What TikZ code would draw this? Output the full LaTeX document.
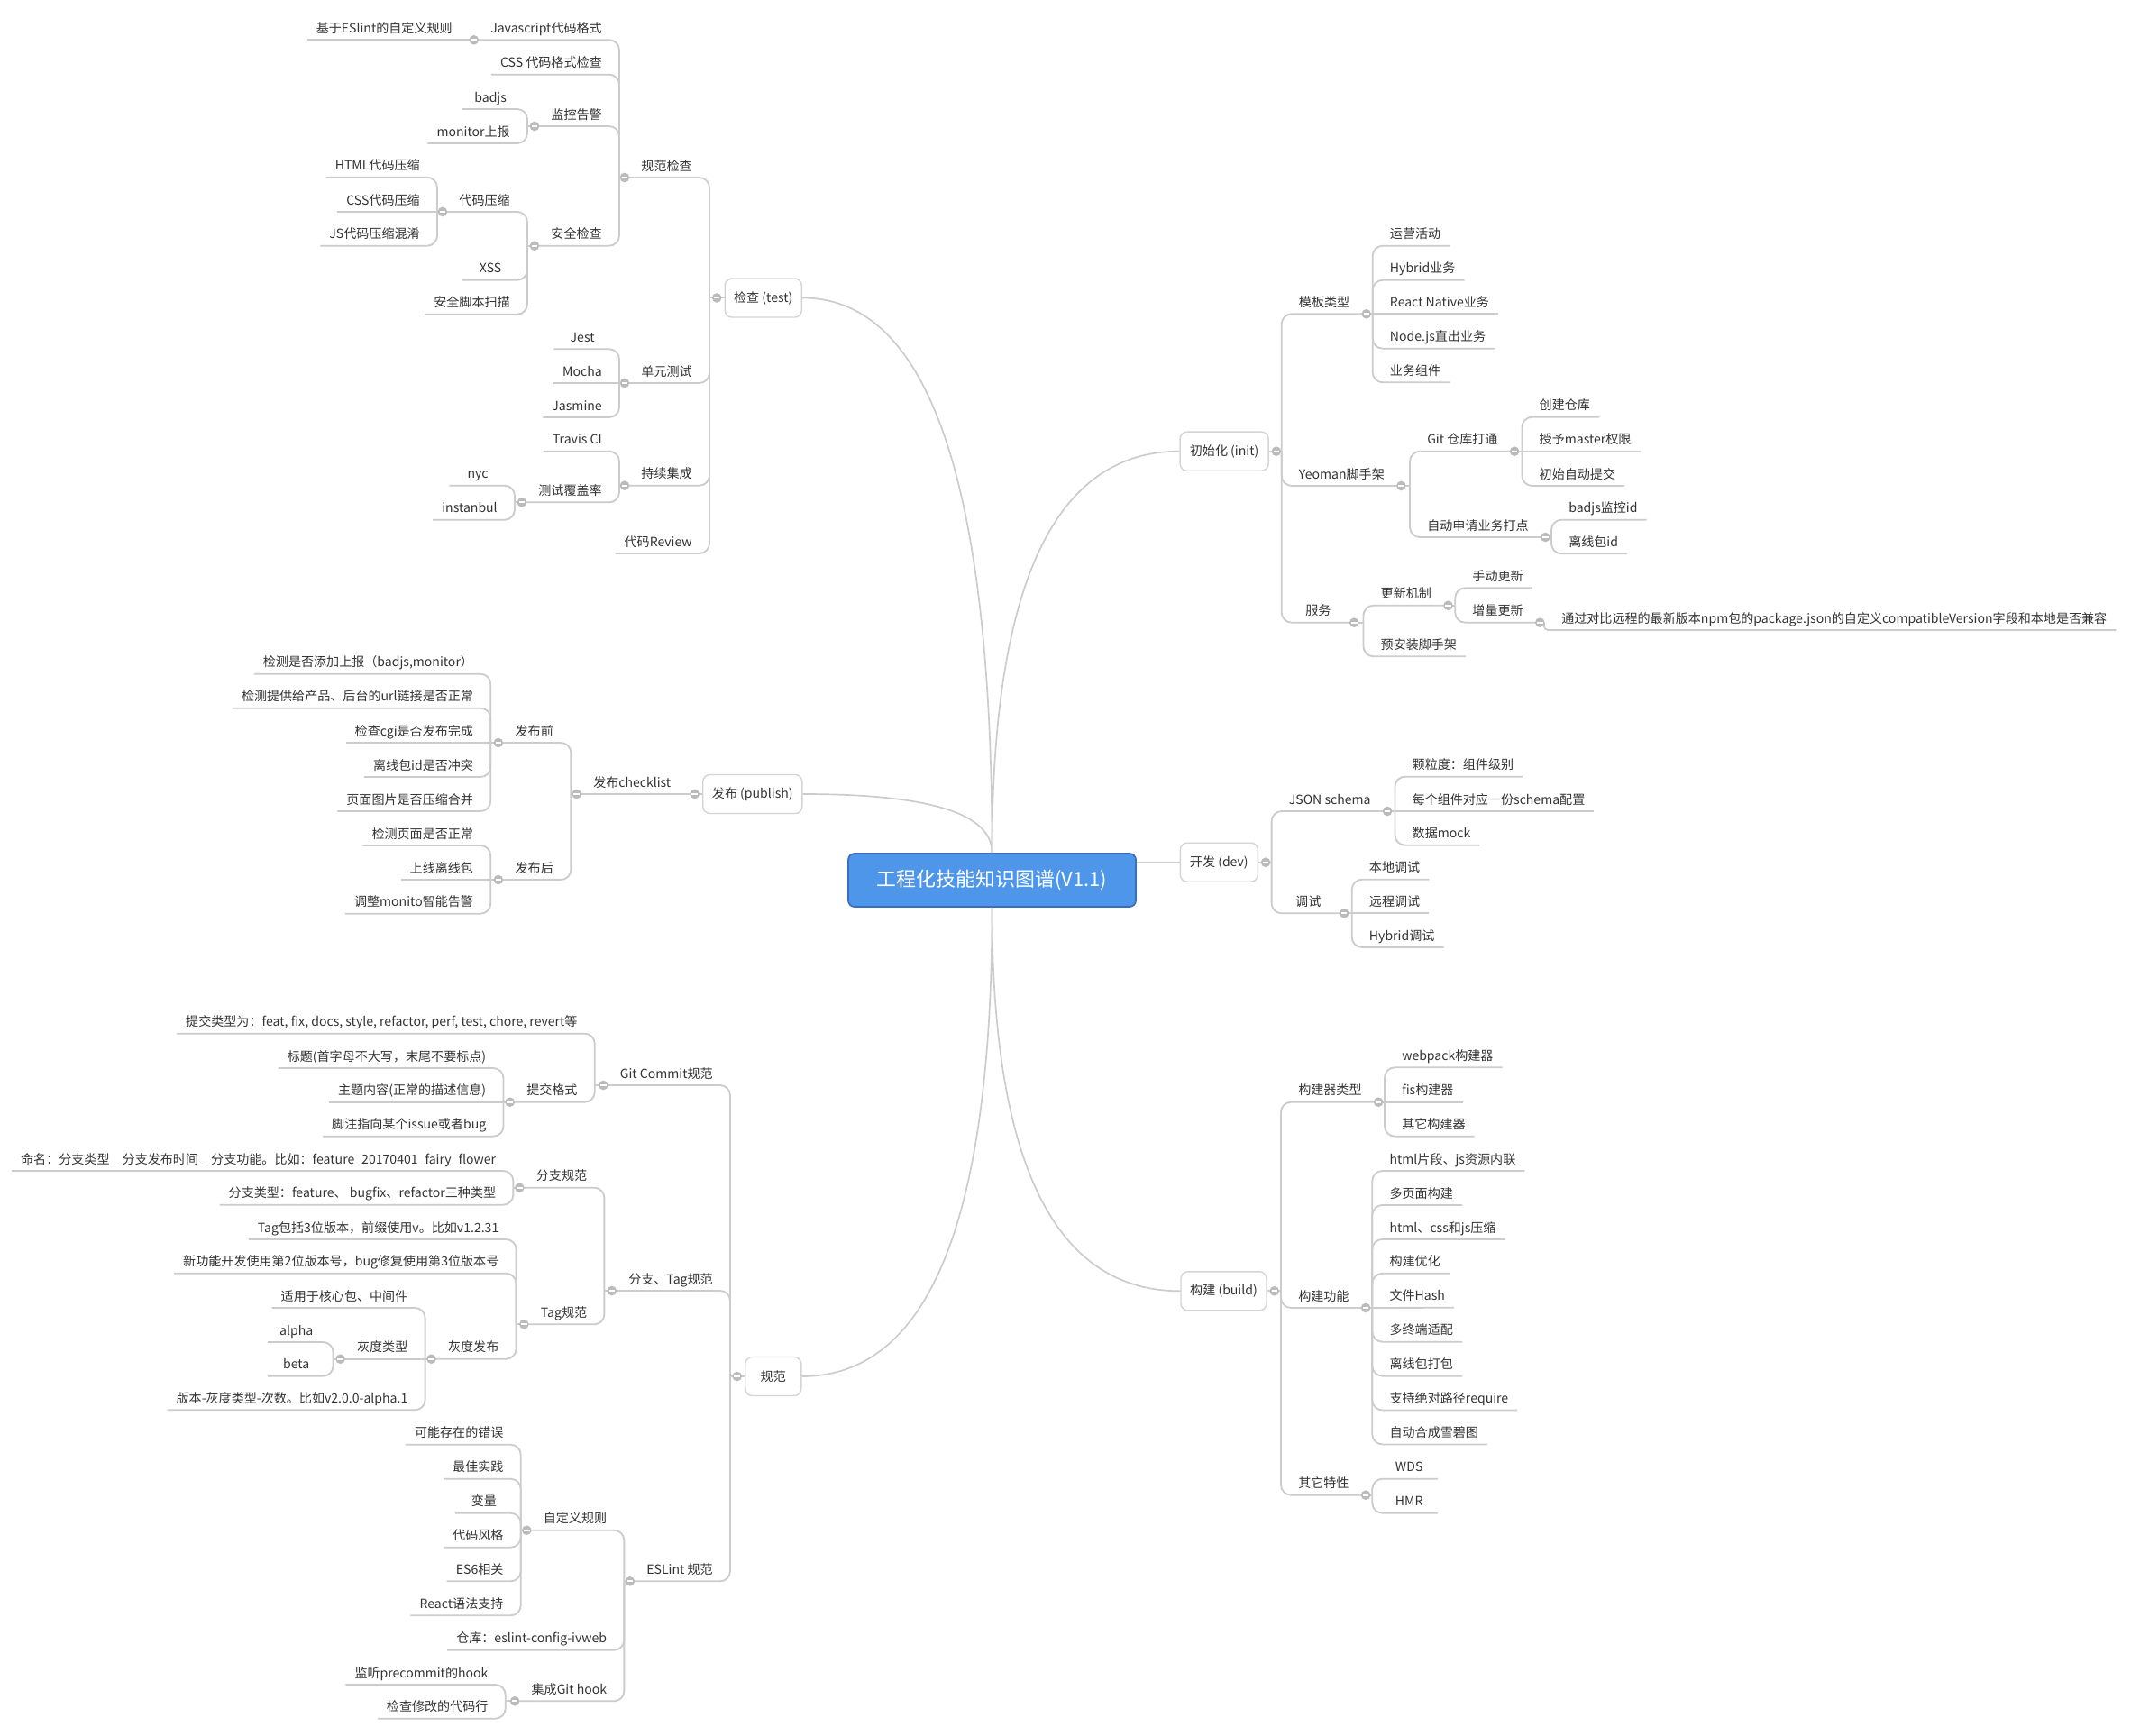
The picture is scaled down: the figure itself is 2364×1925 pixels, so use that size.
\documentclass[tikz,border=0pt]{standalone}
\usepackage{fontspec}
\setmainfont{Noto Sans CJK SC}
\usetikzlibrary{calc}
\definecolor{linegray}{HTML}{CCCCCC}
\definecolor{foldgray}{HTML}{BBBBBB}
\definecolor{boxgray}{HTML}{D4D4D4}
\definecolor{textgray}{HTML}{333333}
\definecolor{rootblue}{HTML}{4D96EA}
\definecolor{rootline}{HTML}{3A6DBE}
\tikzset{
  topictext/.style={inner xsep=0pt, inner ysep=5.4pt, text depth=0pt, text=textgray, font=\fontsize{10}{12}\selectfont},
  lleaf/.style={topictext, anchor=south east, minimum width=1.8cm, execute at begin node={\hspace{7pt}}, execute at end node={\hspace{13.5pt}}},
  ltopic/.style={topictext, anchor=south east, minimum width=2cm, execute at begin node={\hspace{13pt}}, execute at end node={\hspace{13.5pt}}},
  rleaf/.style={topictext, anchor=south west, minimum width=1.8cm, execute at begin node={\hspace{13.5pt}}, execute at end node={\hspace{7pt}}},
  rtopic/.style={topictext, anchor=south west, minimum width=2cm, execute at begin node={\hspace{13.5pt}}, execute at end node={\hspace{13pt}}},
  mainbox/.style={draw=boxgray, line width=1pt, rounded corners=5.5pt, fill=white, minimum height=1.075cm, inner xsep=6.5pt, text=textgray, font=\fontsize{10}{12}\selectfont},
  mlink/.style={draw=linegray, line width=1.3pt, rounded corners=8pt},
  mcurve/.style={draw=linegray, line width=1.2pt},
  fold/.style={circle, fill=foldgray, minimum size=0.265cm, inner sep=0pt, path picture={\draw[white, line width=1.2pt] ([xshift=-2.3pt]path picture bounding box.center) -- ([xshift=2.3pt]path picture bounding box.center);}},
}
\begin{document}
\begin{tikzpicture}[x=0.025cm, y=-0.025cm]
\path[use as bounding box, fill=white] (0,0) rectangle (2364,1925);

\node[rectangle, rounded corners=5pt, fill=rootblue, draw=rootline, line width=1.2pt, minimum width=7.975cm, minimum height=1.475cm, text=white, font=\fontsize{15.6}{18}\selectfont] (root) at (1100.5,976.5) {工程化技能知识图谱(V1.1)};

\node[mainbox, anchor=east, minimum width=2.125cm] (test) at (890,330.5) {检查 (test)};
\node[mainbox, anchor=east, minimum width=2.75cm] (pub) at (890.5,881) {发布 (publish)};
\node[mainbox, anchor=east, minimum width=1.55cm] (spec) at (889.5,1527) {规范};
\node[mainbox, anchor=west, minimum width=2.45cm] (init) at (1308.4,500.7) {初始化 (init)};
\node[mainbox, anchor=west, minimum width=2.15cm] (dev) at (1308.6,956.7) {开发 (dev)};
\node[mainbox, anchor=west, minimum width=2.375cm] (build) at (1309.3,1432.3) {构建 (build)};

\draw[mcurve] (root.north) .. controls +(0,-411) and +(140.3,0) .. (test.east);
\draw[mcurve] (root.north) .. controls +(0,-44) and +(140,0) .. (pub.east);
\draw[mcurve] (root.south) .. controls +(0,347.3) and +(140.7,0) .. (spec.east);
\draw[mcurve] (root.north) .. controls +(0,-297.5) and +(-138.6,0) .. (init.west);
\draw[mcurve] (root.east |- dev.west) -- (dev.west);
\draw[mcurve] (root.south) .. controls +(0,284.2) and +(-139.2,0) .. (build.west);

\node[ltopic] (rule) at (787,197) {规范检查};
\node[ltopic] (jsfmt) at (687,44.3) {Javascript代码格式};
\node[lleaf] (eslintrule) at (521,44.3) {基于ESlint的自定义规则};
\node[lleaf] (cssfmt) at (687,82.7) {CSS 代码格式检查};
\node[ltopic] (monitor) at (687,140) {监控告警};
\node[lleaf] (badjs) at (585,121) {badjs};
\node[lleaf] (monrep) at (585,159) {monitor上报};
\node[ltopic] (secure) at (687,272.7) {安全检查};
\node[ltopic] (compress) at (585,235) {代码压缩};
\node[lleaf] (htmlc) at (485,196.7) {HTML代码压缩};
\node[lleaf] (cssc) at (485,235) {CSS代码压缩};
\node[lleaf] (jsc) at (485,272.7) {JS代码压缩混淆};
\node[lleaf] (xss) at (585,310.7) {XSS};
\node[lleaf] (scan) at (585,348.7) {安全脚本扫描};
\node[ltopic] (unit) at (787,425) {单元测试};
\node[lleaf] (jest) at (687,387.3) {Jest};
\node[lleaf] (mocha) at (687,425) {Mocha};
\node[lleaf] (jasmine) at (687,463) {Jasmine};
\node[ltopic] (ci) at (787,538.7) {持续集成};
\node[lleaf] (travis) at (687,500.7) {Travis CI};
\node[ltopic] (cover) at (687,557.3) {测试覆盖率};
\node[lleaf] (nyc) at (571,538.7) {nyc};
\node[lleaf] (istanbul) at (571,576.7) {instanbul};
\node[lleaf] (review) at (787,614) {代码Review};

\node[ltopic] (checklist) at (763.5,881) {发布checklist};
\node[ltopic] (before) at (633.4,824) {发布前};
\node[lleaf] (b1) at (544.3,747.7) {检测是否添加上报（badjs,monitor）};
\node[lleaf] (b2) at (544.3,785.7) {检测提供给产品、后台的url链接是否正常};
\node[lleaf] (b3) at (544.3,824) {检查cgi是否发布完成};
\node[lleaf] (b4) at (544.3,862) {离线包id是否冲突};
\node[lleaf] (b5) at (544.3,900) {页面图片是否压缩合并};
\node[ltopic] (after) at (633.4,976) {发布后};
\node[lleaf] (a1) at (544.3,938) {检测页面是否正常};
\node[lleaf] (a2) at (544.3,976) {上线离线包};
\node[lleaf] (a3) at (544.3,1013.7) {调整monito智能告警};

\node[ltopic] (gitc) at (810,1204) {Git Commit规范};
\node[lleaf] (ctype) at (659.8,1146.7) {提交类型为：feat, fix, docs, style, refactor, perf, test, chore, revert等};
\node[ltopic] (cfmt) at (659.8,1222.7) {提交格式};
\node[lleaf] (title) at (558.5,1185) {标题(首字母不大写，末尾不要标点)};
\node[lleaf] (subject) at (558.5,1222.7) {主题内容(正常的描述信息)};
\node[lleaf] (footer) at (558.5,1260.7) {脚注指向某个issue或者bug};
\node[ltopic] (brtag) at (810,1432) {分支、Tag规范};
\node[ltopic] (brspec) at (670.4,1317.7) {分支规范};
\node[lleaf] (naming) at (569.4,1299) {命名：分支类型 \_ 分支发布时间 \_ 分支功能。比如：feature\_20170401\_fairy\_flower};
\node[lleaf] (brtype) at (569.4,1336.7) {分支类型：feature、 bugfix、refactor三种类型};
\node[ltopic] (tagspec) at (670.4,1469.3) {Tag规范};
\node[lleaf] (tagver) at (572.6,1375) {Tag包括3位版本，前缀使用v。比如v1.2.31};
\node[lleaf] (tagnew) at (572.6,1412.7) {新功能开发使用第2位版本号，bug修复使用第3位版本号};
\node[ltopic] (gray) at (572.6,1507.7) {灰度发布};
\node[lleaf] (graycore) at (471.6,1451) {适用于核心包、中间件};
\node[ltopic] (graytype) at (471.6,1507.7) {灰度类型};
\node[lleaf] (alpha) at (369.6,1489) {alpha};
\node[lleaf] (beta) at (369.6,1526.7) {beta};
\node[lleaf] (grayver) at (471.6,1564.3) {版本-灰度类型-次数。比如v2.0.0-alpha.1};
\node[ltopic] (lint) at (810,1754.3) {ESLint 规范};
\node[ltopic] (lrules) at (692.4,1697.7) {自定义规则};
\node[lleaf] (err) at (577.7,1602.7) {可能存在的错误};
\node[lleaf] (best) at (577.7,1640.7) {最佳实践};
\node[lleaf] (vars) at (577.7,1678.7) {变量};
\node[lleaf] (cstyle) at (577.7,1716.7) {代码风格};
\node[lleaf] (es6) at (577.7,1754.3) {ES6相关};
\node[lleaf] (react) at (577.7,1792.3) {React语法支持};
\node[lleaf] (lrepo) at (692.4,1830.7) {仓库：eslint-config-ivweb};
\node[ltopic] (hook) at (692.4,1887.3) {集成Git hook};
\node[lleaf] (precommit) at (560.7,1869) {监听precommit的hook};
\node[lleaf] (changed) at (560.7,1906.7) {检查修改的代码行};

\node[rtopic] (tpl) at (1421.7,348.3) {模板类型};
\node[rleaf] (ops) at (1522.7,272.7) {运营活动};
\node[rleaf] (hybrid) at (1522.7,310.7) {Hybrid业务};
\node[rleaf] (rn) at (1522.7,348.3) {React Native业务};
\node[rleaf] (nodejs) at (1522.7,386.7) {Node.js直出业务};
\node[rleaf] (comp) at (1522.7,424.3) {业务组件};
\node[rtopic] (yeoman) at (1421.7,539) {Yeoman脚手架};
\node[rtopic] (gitrepo) at (1564,500.7) {Git 仓库打通};
\node[rleaf] (mkrepo) at (1688.4,462.7) {创建仓库};
\node[rleaf] (master) at (1688.4,500.7) {授予master权限};
\node[rleaf] (firstcommit) at (1688.4,539) {初始自动提交};
\node[rtopic] (apply) at (1564,596) {自动申请业务打点};
\node[rleaf] (badjsid) at (1721,576.7) {badjs监控id};
\node[rleaf] (offlineid) at (1721,614.3) {离线包id};
\node[rtopic] (service) at (1421.7,690.7) {服务};
\node[rtopic] (update) at (1512.4,671.7) {更新机制};
\node[rleaf] (manual) at (1614.2,652.3) {手动更新};
\node[rtopic] (incr) at (1614.2,690.7) {增量更新};
\node[rleaf] (compat) at (1713,699) {通过对比远程的最新版本npm包的package.json的自定义compatibleVersion字段和本地是否兼容};
\node[rleaf] (preinstall) at (1512.4,728.3) {预安装脚手架};

\node[rtopic] (schema) at (1410.6,900) {JSON schema};
\node[rleaf] (grain) at (1547.4,861.7) {颗粒度：组件级别};
\node[rleaf] (percomp) at (1547.4,900) {每个组件对应一份schema配置};
\node[rleaf] (mock) at (1547.4,937.7) {数据mock};
\node[rtopic] (debug) at (1410.6,1013.3) {调试};
\node[rleaf] (local) at (1499.7,975.7) {本地调试};
\node[rleaf] (remote) at (1499.7,1013.3) {远程调试};
\node[rleaf] (hybriddbg) at (1499.7,1051) {Hybrid调试};

\node[rtopic] (btype) at (1421,1222.7) {构建器类型};
\node[rleaf] (webpack) at (1536,1184.3) {webpack构建器};
\node[rleaf] (fis) at (1536,1222.7) {fis构建器};
\node[rleaf] (otherb) at (1536,1260.7) {其它构建器};
\node[rtopic] (bfunc) at (1421,1451) {构建功能};
\foreach \t [count=\i] in {html片段、js资源内联,多页面构建,html、css和js压缩,构建优化,文件Hash,多终端适配,离线包打包,支持绝对路径require,自动合成雪碧图}
  \node[rleaf] (f\i) at (1522.3,{1299+37.93*(\i-1)}) {\t};
\node[rtopic] (bmisc) at (1421,1658.7) {其它特性};
\node[rleaf] (wds) at (1522.3,1640.7) {WDS};
\node[rleaf] (hmr) at (1522.3,1678.7) {HMR};

\coordinate (test-t) at (787,330.5);
\coordinate (rule-t) at (687,197);
\coordinate (monitor-t) at (585,140);
\coordinate (secure-t) at (585,272.7);
\coordinate (compress-t) at (485,235);
\coordinate (unit-t) at (687,425);
\coordinate (ci-t) at (687,538.7);
\coordinate (cover-t) at (571,557.3);
\coordinate (checklist-t) at (633.4,881);
\coordinate (before-t) at (544.3,824);
\coordinate (after-t) at (544.3,976);
\coordinate (spec-t) at (810,1527);
\coordinate (gitc-t) at (659.8,1204);
\coordinate (cfmt-t) at (558.5,1222.7);
\coordinate (brtag-t) at (670.4,1432);
\coordinate (brspec-t) at (569.4,1317.7);
\coordinate (tagspec-t) at (572.6,1469.3);
\coordinate (gray-t) at (471.6,1507.7);
\coordinate (graytype-t) at (369.6,1507.7);
\coordinate (lint-t) at (692.4,1754.3);
\coordinate (lrules-t) at (577.7,1697.7);
\coordinate (hook-t) at (560.7,1887.3);
\coordinate (init-t) at (1421.7,500.7);
\coordinate (tpl-t) at (1522.7,348.3);
\coordinate (yeoman-t) at (1564,539);
\coordinate (gitrepo-t) at (1688.4,500.7);
\coordinate (apply-t) at (1721,596);
\coordinate (service-t) at (1512.4,690.7);
\coordinate (update-t) at (1614.2,671.7);
\coordinate (incr-t) at (1713,690.7);
\coordinate (dev-t) at (1410.6,956.7);
\coordinate (schema-t) at (1547.4,900);
\coordinate (debug-t) at (1499.7,1013.3);
\coordinate (build-t) at (1421,1432.3);
\coordinate (btype-t) at (1536,1222.7);
\coordinate (bfunc-t) at (1522.3,1451);
\coordinate (bmisc-t) at (1522.3,1658.7);

\draw[mlink] (test.west) -- (test-t);
\foreach \c in {rule,unit,ci,review} \draw[mlink] (test-t) |- (\c.south west);
\draw[mlink] (rule.south west) -- (rule-t);
\foreach \c in {jsfmt,cssfmt,monitor,secure} \draw[mlink] (rule-t) |- (\c.south west);
\draw[mlink] (jsfmt.south west) -- (eslintrule.south west);
\draw[mlink] (monitor.south west) -- (monitor-t);
\foreach \c in {badjs,monrep} \draw[mlink] (monitor-t) |- (\c.south west);
\draw[mlink] (secure.south west) -- (secure-t);
\foreach \c in {compress,xss,scan} \draw[mlink] (secure-t) |- (\c.south west);
\draw[mlink] (compress.south west) -- (cssc.south west);
\foreach \c in {htmlc,jsc} \draw[mlink] (compress-t) |- (\c.south west);
\draw[mlink] (unit.south west) -- (mocha.south west);
\foreach \c in {jest,jasmine} \draw[mlink] (unit-t) |- (\c.south west);
\draw[mlink] (ci.south west) -- (ci-t);
\foreach \c in {travis,cover} \draw[mlink] (ci-t) |- (\c.south west);
\draw[mlink] (cover.south west) -- (cover-t);
\foreach \c in {nyc,istanbul} \draw[mlink] (cover-t) |- (\c.south west);

\draw[mlink] (pub.west) -- (checklist.south west);
\draw[mlink] (checklist.south west) -- (checklist-t);
\foreach \c in {before,after} \draw[mlink] (checklist-t) |- (\c.south west);
\draw[mlink] (before.south west) -- (b3.south west);
\foreach \c in {b1,b2,b4,b5} \draw[mlink] (before-t) |- (\c.south west);
\draw[mlink] (after.south west) -- (a2.south west);
\foreach \c in {a1,a3} \draw[mlink] (after-t) |- (\c.south west);

\draw[mlink] (spec.west) -- (spec-t);
\foreach \c in {gitc,brtag,lint} \draw[mlink] (spec-t) |- (\c.south west);
\draw[mlink] (gitc.south west) -- (gitc-t);
\foreach \c in {ctype,cfmt} \draw[mlink] (gitc-t) |- (\c.south west);
\draw[mlink] (cfmt.south west) -- (subject.south west);
\foreach \c in {title,footer} \draw[mlink] (cfmt-t) |- (\c.south west);
\draw[mlink] (brtag.south west) -- (brtag-t);
\foreach \c in {brspec,tagspec} \draw[mlink] (brtag-t) |- (\c.south west);
\draw[mlink] (brspec.south west) -- (brspec-t);
\foreach \c in {naming,brtype} \draw[mlink] (brspec-t) |- (\c.south west);
\draw[mlink] (tagspec.south west) -- (tagspec-t);
\foreach \c in {tagver,tagnew,gray} \draw[mlink] (tagspec-t) |- (\c.south west);
\draw[mlink] (gray.south west) -- (graytype.south west);
\foreach \c in {graycore,grayver} \draw[mlink] (gray-t) |- (\c.south west);
\draw[mlink] (graytype.south west) -- (graytype-t);
\foreach \c in {alpha,beta} \draw[mlink] (graytype-t) |- (\c.south west);
\draw[mlink] (lint.south west) -- (lint-t);
\foreach \c in {lrules,lrepo,hook} \draw[mlink] (lint-t) |- (\c.south west);
\draw[mlink] (lrules.south west) -- (lrules-t);
\foreach \c in {err,best,vars,cstyle,es6,react} \draw[mlink] (lrules-t) |- (\c.south west);
\draw[mlink] (hook.south west) -- (hook-t);
\foreach \c in {precommit,changed} \draw[mlink] (hook-t) |- (\c.south west);

\draw[mlink] (init.east) -- (init-t);
\foreach \c in {tpl,yeoman,service} \draw[mlink] (init-t) |- (\c.south east);
\draw[mlink] (tpl.south east) -- (rn.south east);
\foreach \c in {ops,hybrid,nodejs,comp} \draw[mlink] (tpl-t) |- (\c.south east);
\draw[mlink] (yeoman.south east) -- (yeoman-t);
\foreach \c in {gitrepo,apply} \draw[mlink] (yeoman-t) |- (\c.south east);
\draw[mlink] (gitrepo.south east) -- (master.south east);
\foreach \c in {mkrepo,firstcommit} \draw[mlink] (gitrepo-t) |- (\c.south east);
\draw[mlink] (apply.south east) -- (apply-t);
\foreach \c in {badjsid,offlineid} \draw[mlink] (apply-t) |- (\c.south east);
\draw[mlink] (service.south east) -- (service-t);
\foreach \c in {update,preinstall} \draw[mlink] (service-t) |- (\c.south east);
\draw[mlink] (update.south east) -- (update-t);
\foreach \c in {manual,incr} \draw[mlink] (update-t) |- (\c.south east);
\draw[mlink] (incr.south east) -- (incr-t);
\draw[mlink, rounded corners=3pt] (incr-t) |- (compat.south east);

\draw[mlink] (dev.east) -- (dev-t);
\foreach \c in {schema,debug} \draw[mlink] (dev-t) |- (\c.south east);
\draw[mlink] (schema.south east) -- (percomp.south east);
\foreach \c in {grain,mock} \draw[mlink] (schema-t) |- (\c.south east);
\draw[mlink] (debug.south east) -- (remote.south east);
\foreach \c in {local,hybriddbg} \draw[mlink] (debug-t) |- (\c.south east);

\draw[mlink] (build.east) -- (build-t);
\foreach \c in {btype,bfunc,bmisc} \draw[mlink] (build-t) |- (\c.south east);
\draw[mlink] (btype.south east) -- (fis.south east);
\foreach \c in {webpack,otherb} \draw[mlink] (btype-t) |- (\c.south east);
\draw[mlink] (bfunc.south east) -- (f5.south east);
\foreach \c in {f1,f2,f3,f4,f6,f7,f8,f9} \draw[mlink] (bfunc-t) |- (\c.south east);
\draw[mlink] (bmisc.south east) -- (bmisc-t);
\foreach \c in {wds,hmr} \draw[mlink] (bmisc-t) |- (\c.south east);

\foreach \n in {rule,jsfmt,monitor,secure,compress,unit,ci,cover,checklist,before,after,gitc,cfmt,brtag,brspec,tagspec,gray,graytype,lint,lrules,hook}
  \node[fold] at (\n.south west) {};
\foreach \n in {tpl,yeoman,gitrepo,apply,service,update,incr,schema,debug,btype,bfunc,bmisc}
  \node[fold] at (\n.south east) {};
\foreach \n in {test,pub,spec} \node[fold] at ([xshift=-0.21cm]\n.west) {};
\foreach \n in {init,dev,build} \node[fold] at ([xshift=0.2cm]\n.east) {};
\end{tikzpicture}
\end{document}
